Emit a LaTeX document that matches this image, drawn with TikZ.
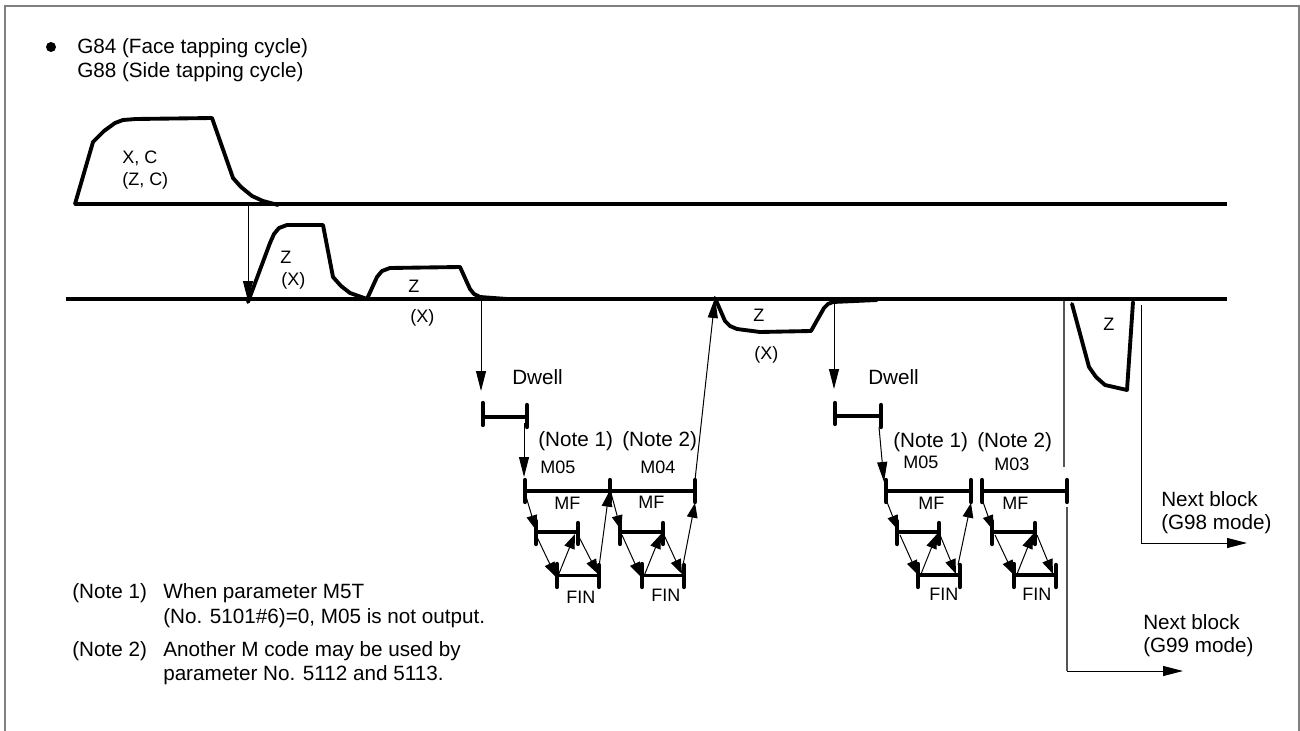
\documentclass[tikz,border=0pt]{standalone}
\usepackage{xcolor}
\usepackage{fontspec}
\setmainfont{Liberation Sans}
\usetikzlibrary{arrows.meta}
\definecolor{framegray}{HTML}{808080}
\definecolor{linegray}{HTML}{555555}

\begin{document}
\begin{tikzpicture}[
  x=0.75pt,
  y=-0.75pt,
  axis/.style={
    draw=black,
    line width=2.8pt
  },
  pulse/.style={
    draw=black,
    line width=2.9pt,
    line join=round,
    line cap=round
  },
  tick/.style={
    draw=black,
    line width=3.2pt,
    line cap=round
  },
  bar/.style={
    draw=black,
    line width=2.9pt
  },
  flow/.style={
    draw=black,
    line width=0.75pt,
    -{Triangle[length=15pt,width=7.5pt]}
  },
  flowsmall/.style={
    draw=black,
    line width=0.75pt,
    -{Triangle[length=11pt,width=8pt]}
  },
  label/.style={
    anchor=base west,
    inner sep=0pt,
    font=\fontsize{15.5}{17.6}\selectfont
  },
  labelsmall/.style={
    anchor=base west,
    inner sep=0pt,
    font=\fontsize{13.5}{16.5}\selectfont
  }
]

\path[use as bounding box] (0,0) rectangle (1300,731);

% Frame
\draw[framegray,line width=1.7pt] (5,731) -- (5,6) -- (1299,6) -- (1299,731);

% Heading
\fill (51,47) circle (5);
\node[label] (headone) at (77,54) {G84 (Face tapping cycle)};
\node[label] (headtwo) at (77,77.5) {G88 (Side tapping cycle)};

% Axes
\coordinate (axisa) at (75,204);
\coordinate (axisaend) at (1227,204);
\coordinate (axisb) at (66,299);
\coordinate (axisbend) at (1227,299);
\draw[axis] (axisa) -- (axisaend);
\draw[axis] (axisb) -- (axisbend);

% Pulses
\draw[pulse] (axisa) -- (93,142) -- (104,131) -- (115,123) -- (123,120) -- (136,119) -- (212,118) -- (233,178) -- (241,187) -- (252,196) -- (263,201) -- (278,205);
\draw[pulse] (248,302) -- (270,243) -- (274,234) -- (279,228) -- (287,225) -- (323,225) -- (333,277) -- (341,286) -- (350,293) -- (367,299);
\draw[pulse] (367,299) -- (377,277) -- (382,271) -- (390,268) -- (460,267) -- (470,289) -- (474,294) -- (480,297) -- (507,299);
\draw[pulse] (715,298) -- (725,321) -- (730,326) -- (737,329) -- (760,332) -- (811,331) -- (824,308) -- (828,304) -- (833,302) -- (877,300);
\draw[pulse] (1072,304) -- (1089,367) -- (1096,377) -- (1105,385) -- (1127,390) -- (1133,302);

\node[labelsmall] (xc)  at (122,164) {X, C};
\node[labelsmall] (zc)  at (122,186) {(Z, C)};
\node[labelsmall] (za)  at (280,263) {Z};
\node[labelsmall] (xa)  at (281,285) {(X)};
\node[labelsmall] (zb)  at (408,292) {Z};
\node[labelsmall] (xb)  at (410,322) {(X)};
\node[labelsmall] (zd)  at (753,321) {Z};
\node[labelsmall] (xd)  at (754,359) {(X)};
\node[labelsmall] (ze)  at (1103,330) {Z};

% Dwell, first
\node[label] (dwella) at (512,384) {Dwell};
\coordinate (dwellal) at (482.7,417);
\coordinate (dwellar) at (527,417);
\draw[bar] (dwellal) -- (dwellar);
\draw[tick] (482.7,403) -- (482.7,425);
\draw[tick] (527,405) -- (527,427);
\draw[flow] (481,297) -- (481,391);
\draw[flow] (524,423) -- (524,477);

% Dwell, second
\node[label] (dwellb) at (868,384) {Dwell};
\coordinate (dwellbl) at (835,416);
\coordinate (dwellbr) at (881,416);
\draw[bar] (dwellbl) -- (dwellbr);
\draw[tick] (835,403) -- (835,424);
\draw[tick] (881,405) -- (881,427);
\draw[flow] (834,302) -- (834,389);
\draw[flow] (879,427) -- (884,482);

% Arrow onto the second axis
\draw[flow] (248,205) -- (248,301);

% MF, first pair
\node[label] (notea) at (538,446) {(Note 1)};
\node[label] (noteb) at (622,446) {(Note 2)};
\node[labelsmall] (mfive) at (540,473) {M05};
\node[labelsmall] (mfour) at (640,473) {M04};
\node[labelsmall] (mfa) at (554,509) {MF};
\node[labelsmall] (mfb) at (638,508) {MF};
\draw[bar] (525,491) -- (695,491);
\draw[tick] (525,480) -- (525,502);
\draw[tick] (610,480) -- (610,502);
\draw[tick] (695,480) -- (695,502);

\draw[bar] (536,532) -- (578,532);
\draw[tick] (536,521) -- (536,544);
\draw[tick] (578,523) -- (578,544);
\draw[bar] (557,575.5) -- (599,575.5);
\draw[tick] (557,564) -- (557,587);
\draw[tick] (599,565) -- (599,587);
\draw[flowsmall] (525,493) -- (536,530);
\draw[flowsmall] (536,535) -- (556,577);
\draw[flowsmall] (558,576) -- (575,534);
\draw[flowsmall] (578,535) -- (598,574);
\draw[flowsmall] (599,567) -- (609,492);
\node[labelsmall] (fina) at (566,603) {FIN};

\draw[bar] (620,532) -- (663,532);
\draw[tick] (620,521) -- (620,544);
\draw[tick] (663,523) -- (663,544);
\draw[bar] (642,575.5) -- (684,575.5);
\draw[tick] (642,564) -- (642,587);
\draw[tick] (684,565) -- (684,587);
\draw[flowsmall] (611,493) -- (621,530);
\draw[flowsmall] (622,535) -- (641,577);
\draw[flowsmall] (644,576) -- (661,534);
\draw[flowsmall] (664,535) -- (682,574);
\draw[flowsmall] (683,565) -- (695,503);
\node[labelsmall] (finb) at (651,601) {FIN};

% Return to the second axis
\draw[flow] (695,480) -- (715,298);

% MF, second pair
\node[label] (notec) at (893,447) {(Note 1)};
\node[label] (noted) at (977,447) {(Note 2)};
\node[labelsmall] (mfivec) at (903,468) {M05};
\node[labelsmall] (mthree) at (994,470) {M03};
\node[labelsmall] (mfc) at (918,509) {MF};
\node[labelsmall] (mfd) at (1002,509) {MF};
\draw[bar] (886,491) -- (971,491);
\draw[tick] (886,480) -- (886,502);
\draw[tick] (971,480) -- (971,502);
\draw[bar] (982,491) -- (1067,491);
\draw[tick] (982,480) -- (982,502);
\draw[tick] (1067,480) -- (1067,502);

\draw[bar] (897,532) -- (939,532);
\draw[tick] (897,521) -- (897,544);
\draw[tick] (939,523) -- (939,544);
\draw[bar] (918,575) -- (960,575);
\draw[tick] (918,564) -- (918,587);
\draw[tick] (960,565) -- (960,587);
\draw[flowsmall] (887,502) -- (898,530);
\draw[flowsmall] (900,535) -- (918,575);
\draw[flowsmall] (921,574) -- (937,534);
\draw[flowsmall] (940,535) -- (956,574);
\draw[flowsmall] (958,565) -- (971,503);
\node[labelsmall] (finc) at (929,600) {FIN};

\draw[bar] (992,532) -- (1035,532);
\draw[tick] (992,521) -- (992,544);
\draw[tick] (1035,523) -- (1035,544);
\draw[bar] (1014,575) -- (1056,575);
\draw[tick] (1014,564) -- (1014,587);
\draw[tick] (1056,565) -- (1056,587);
\draw[flowsmall] (983,502) -- (993,530);
\draw[flowsmall] (995,535) -- (1014,575);
\draw[flowsmall] (1017,574) -- (1033,534);
\draw[flowsmall] (1037,535) -- (1053,574);
\node[labelsmall] (find) at (1022,600) {FIN};

% Next block
\draw[linegray,line width=0.8pt] (1064,301) -- (1064,467);
\draw[linegray,line width=1.2pt] (1067,507) -- (1067,671);
\draw[flow] (1067,671) -- (1183,671);
\draw[flow] (1141,305) |- (1247,543);
\node[label] (nexta) at (1161,506) {Next block};
\node[label] (modea) at (1161,529) {(G98 mode)};
\node[label] (nextb) at (1143,629) {Next block};
\node[label] (modeb) at (1143,652) {(G99 mode)};

% Notes
\node[label] (ntone)  at (72,598) {(Note 1)};
\node[label] (nttext) at (163,598) {When parameter M5T};
\node[label] (nttexb) at (163,623) {(No. 5101\#6)=0, M05 is not output.};
\node[label] (nttwo)  at (72,656) {(Note 2)};
\node[label] (nttexc) at (163,656) {Another M code may be used by};
\node[label] (nttexd) at (163,680) {parameter No. 5112 and 5113.};

\end{tikzpicture}
\end{document}
